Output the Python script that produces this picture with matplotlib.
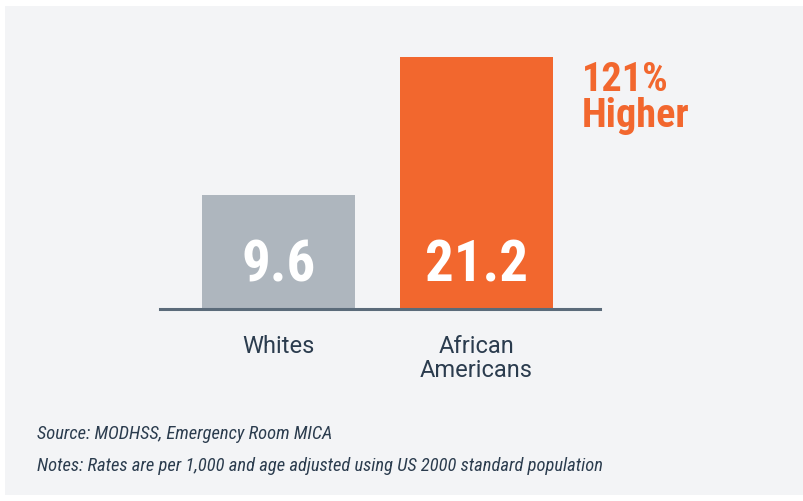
import matplotlib
matplotlib.use("Agg")
import matplotlib.pyplot as plt
from matplotlib import font_manager
from matplotlib.patches import Rectangle

categories = ["Whites", "African\nAmericans"]
values = [9.6, 21.2]
value_labels = ["9.6", "21.2"]
bar_colors = ["#aeb6be", "#f2672e"]
callout = "121%\nHigher"
source_note = "Source: MODHSS, Emergency Room MICA"
rates_note = "Notes: Rates are per 1,000 and age adjusted using US 2000 standard population"

# pick a narrow family if one is around
names = {f.name for f in font_manager.fontManager.ttflist}
family = "DejaVu Sans"
for cand in ["Roboto Condensed", "Liberation Sans Narrow", "Roboto", "Liberation Sans"]:
    if cand in names:
        family = cand
        break
plt.rcParams["font.family"] = [family, "DejaVu Sans"]
label_family = ["Roboto", "DejaVu Sans"] if "Roboto" in names else [family, "DejaVu Sans"]

text_col = "#2b3c4e"
W, H = 804, 501
fig = plt.figure(figsize=(W / 100, H / 100), dpi=100)
fig.patch.set_facecolor("white")
fig.patches.append(Rectangle((5 / W, 6 / H), 1, (495 - 6) / H, transform=fig.transFigure,
                             facecolor="#f3f4f6", edgecolor="none", zorder=-10))

ax = fig.add_axes([160 / W, (H - 309) / H, 440 / W, 252 / H])
ax.set_zorder(5)
ax.set_facecolor("none")
x = [0, 1]
ax.bar(x, values, width=0.773, color=bar_colors, zorder=2)
ax.set_xlim(-0.598, 1.624)
ax.set_ylim(0, 21.2)
ax.axhline(0, color="#5b6b7a", lw=2.2, zorder=3, clip_on=False)
for s in ax.spines.values():
    s.set_visible(False)
ax.set_yticks([])
ax.set_xticks(x)
ax.set_xticklabels(categories, fontsize=17, color=text_col, linespacing=1.05,
                   family=label_family)
ax.tick_params(axis="x", length=0, pad=19)

for xi, lab in zip(x, value_labels):
    ax.text(xi, 3.6, lab, ha="center", va="center", color="white",
            fontsize=41, fontweight="bold", zorder=4)

fig.text(582 / W, 1 - 98 / H, callout, ha="left", va="center", color="#f2672e",
         fontsize=29, fontweight="bold", linespacing=0.95)

fig.text(37 / W, 1 - 434 / H, source_note, ha="left", va="center", color=text_col,
         fontsize=13.3, style="italic")
fig.text(37 / W, 1 - 466 / H, rates_note, ha="left", va="center", color=text_col,
         fontsize=13.3, style="italic")

fig.savefig("out.png", dpi=100, facecolor=fig.get_facecolor())
